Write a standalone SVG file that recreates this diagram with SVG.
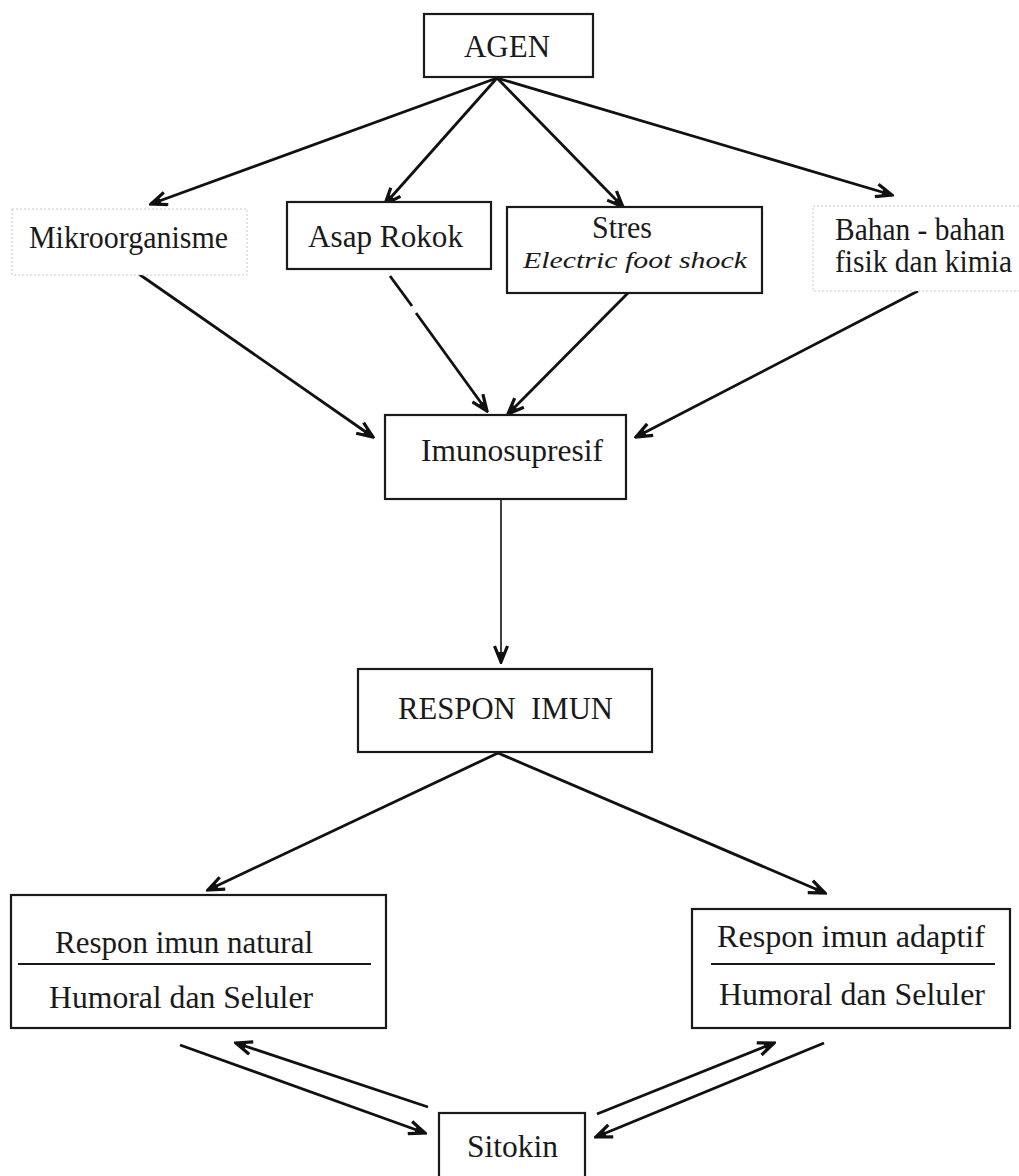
<svg xmlns="http://www.w3.org/2000/svg" width="1019" height="1176" viewBox="0 0 1019 1176">
<defs>
<style>
.box{fill:#fff;stroke:#1a1a1a;stroke-width:2.2}
.dot{fill:#fff;stroke:#c8c8c8;stroke-width:1;stroke-dasharray:2 2}
.t{font-family:"Liberation Serif","Times New Roman",serif;font-size:31px;fill:#1a1a1a}
.ti{font-family:"Liberation Serif","Times New Roman",serif;font-size:24px;font-style:italic;fill:#1a1a1a}
.c{stroke:#111;stroke-width:2.8;fill:none;marker-end:url(#ah)}
.c2{stroke:#111;stroke-width:1.6;fill:none;marker-end:url(#ah)}
.sep{stroke:#1a1a1a;stroke-width:2.2}
</style>
<marker id="ah" viewBox="0 0 20 16" refX="18" refY="8" markerWidth="20" markerHeight="16" orient="auto" markerUnits="userSpaceOnUse">
<path d="M2,1.5 L18,8 L2,14.5" fill="none" stroke="#111" stroke-width="3.2" stroke-linejoin="miter"/>
<path d="M8,5 L18,8 L8,11 Z" fill="#111"/>
</marker>
</defs>
<rect width="1019" height="1176" fill="#fff"/>

<g id="connectors">
<line class="c" x1="497" y1="78" x2="151" y2="204"/>
<line class="c" x1="497" y1="78" x2="385" y2="204"/>
<line class="c" x1="497" y1="78" x2="623" y2="207"/>
<line class="c" x1="497" y1="78" x2="892" y2="195"/>
<line class="c" x1="136" y1="272" x2="373" y2="437"/>
<line x1="390" y1="276" x2="412" y2="306" stroke="#111" stroke-width="2.8"/>
<line class="c" x1="416" y1="313" x2="487" y2="411"/>
<line class="c" x1="628" y1="293" x2="508" y2="414"/>
<line class="c" x1="918" y1="291" x2="636" y2="437"/>
<line class="c2" x1="501" y1="499" x2="501" y2="662"/>
<line class="c" x1="498" y1="753" x2="208" y2="890"/>
<line class="c" x1="498" y1="753" x2="825" y2="893"/>
<line class="c" x1="180" y1="1045" x2="425" y2="1133"/>
<line class="c" x1="428" y1="1107" x2="236" y2="1043"/>
<line class="c" x1="597" y1="1114" x2="774" y2="1043"/>
<line class="c" x1="824" y1="1043" x2="596" y2="1137"/>
</g>

<g id="agen">
<rect class="box" x="424" y="14" width="169" height="63"/>
<text class="t" x="507" y="57" text-anchor="middle" textLength="86" lengthAdjust="spacingAndGlyphs">AGEN</text>
</g>

<g id="mikroorganisme">
<rect class="dot" x="12" y="209" width="235" height="66"/>
<text class="t" x="29" y="248" textLength="199" lengthAdjust="spacingAndGlyphs">Mikroorganisme</text>
</g>

<g id="asap-rokok">
<rect class="box" x="287" y="202" width="204" height="67"/>
<text class="t" x="308" y="247" textLength="155" lengthAdjust="spacingAndGlyphs">Asap Rokok</text>
</g>

<g id="stres">
<rect class="box" x="507" y="207" width="255" height="86"/>
<text class="t" x="592" y="238" textLength="60" lengthAdjust="spacingAndGlyphs">Stres</text>
<text class="ti" x="523" y="268" textLength="224" lengthAdjust="spacingAndGlyphs">Electric foot shock</text>
</g>

<g id="bahan">
<rect class="dot" x="813" y="206" width="215" height="85"/>
<text class="t" x="835" y="240" textLength="170" lengthAdjust="spacingAndGlyphs">Bahan - bahan</text>
<text class="t" x="835" y="272" textLength="177" lengthAdjust="spacingAndGlyphs">fisik dan kimia</text>
</g>

<g id="imunosupresif">
<rect class="box" x="385" y="415" width="241" height="84"/>
<text class="t" x="421" y="461" textLength="182" lengthAdjust="spacingAndGlyphs">Imunosupresif</text>
</g>

<g id="respon-imun">
<rect class="box" x="358" y="669" width="294" height="83"/>
<text class="t" x="398" y="719" textLength="215" lengthAdjust="spacingAndGlyphs" xml:space="preserve">RESPON  IMUN</text>
</g>

<g id="respon-natural">
<rect class="box" x="11" y="895" width="375" height="133"/>
<text class="t" x="55" y="953" textLength="258" lengthAdjust="spacingAndGlyphs">Respon imun natural</text>
<line class="sep" x1="18" y1="964" x2="371" y2="964"/>
<text class="t" x="49" y="1008" textLength="264" lengthAdjust="spacingAndGlyphs">Humoral dan Seluler</text>
</g>

<g id="respon-adaptif">
<rect class="box" x="692" y="909" width="318" height="119"/>
<text class="t" x="717" y="947" textLength="268" lengthAdjust="spacingAndGlyphs">Respon imun adaptif</text>
<line class="sep" x1="711" y1="964" x2="995" y2="964"/>
<text class="t" x="719" y="1005" textLength="266" lengthAdjust="spacingAndGlyphs">Humoral dan Seluler</text>
</g>

<g id="sitokin">
<rect class="box" x="439" y="1113" width="146" height="70"/>
<text class="t" x="467" y="1157" textLength="91" lengthAdjust="spacingAndGlyphs">Sitokin</text>
</g>
</svg>
